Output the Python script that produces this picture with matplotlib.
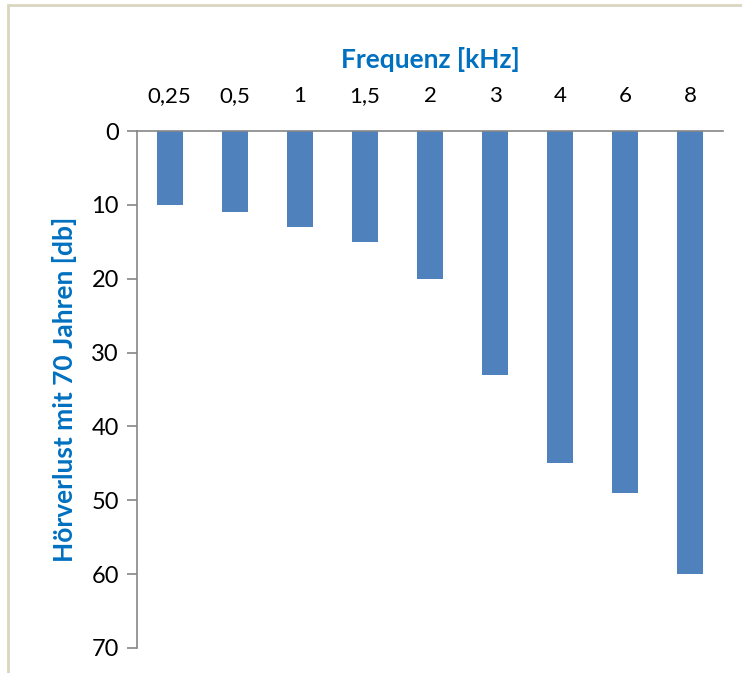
import matplotlib.pyplot as plt
from matplotlib.patches import Rectangle

# Hörverlust im Alter von 70 Jahren nach Frequenz
freq_labels = ["0,25", "0,5", "1", "1,5", "2", "3", "4", "6", "8"]
loss_db = [10, 11, 13, 15, 20, 33, 45, 49, 60]

BLUE = "#0070c0"
BAR = "#4f81bd"
AXIS = "#868686"

plt.rcParams["font.family"] = ["Lato", "DejaVu Sans"]

fig = plt.figure(figsize=(7.42, 6.73), dpi=100)
ax = fig.add_axes([137 / 742, 1 - 648 / 673, 586 / 742, 517 / 673])

x = range(len(freq_labels))
ax.bar(x, loss_db, width=0.4, color=BAR, zorder=2)

ax.set_xlim(-0.5, len(freq_labels) - 0.5)
ax.set_ylim(70, 0)
ax.set_yticks(range(0, 71, 10))

ax.xaxis.tick_top()
ax.xaxis.set_label_position("top")
ax.set_xticks(list(x))
ax.set_xticklabels(freq_labels)
ax.tick_params(axis="x", length=0, pad=18, labelsize=16)
ax.tick_params(axis="y", direction="out", length=7, width=1.2, color=AXIS,
               pad=6, labelsize=17)

for side in ("right", "bottom"):
    ax.spines[side].set_visible(False)
for side in ("top", "left"):
    ax.spines[side].set_color(AXIS)
    ax.spines[side].set_linewidth(1.2)

ax.set_xlabel("Frequenz [kHz]", color=BLUE, fontsize=19, fontweight="bold", labelpad=13)
ax.set_ylabel("Hörverlust mit 70 Jahren [db]", color=BLUE, fontsize=19,
              fontweight="bold", labelpad=10)

# Rahmen des Diagrammbereichs
fig.patches.append(Rectangle((8 / 742, -0.1), 1.2, 1 - 5 / 673 + 0.1,
                             transform=fig.transFigure, fill=False,
                             edgecolor="#d9d5c1", linewidth=2))

fig.savefig("out.png", dpi=100)
